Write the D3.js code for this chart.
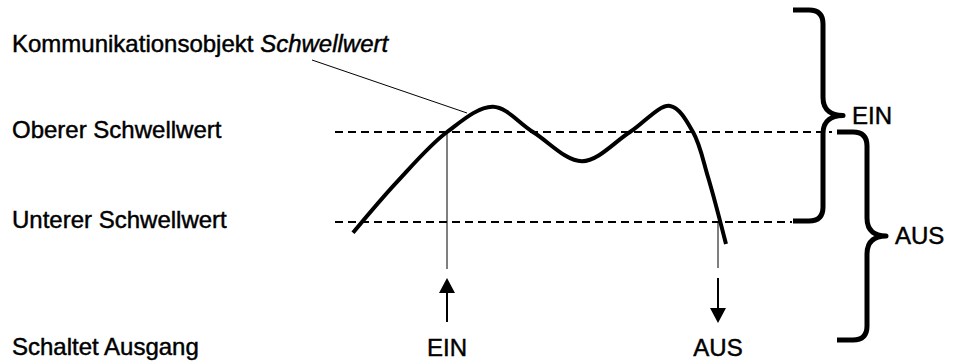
<!DOCTYPE html>
<html>
<head>
<meta charset="utf-8">
<script src="https://cdn.jsdelivr.net/npm/d3@7"></script>
<style>
  html, body { margin: 0; padding: 0; background: #fff; }
  svg { display: block; }
  text { font-family: "Liberation Sans", Arial, Helvetica, sans-serif; font-size: 24px; fill: #000; stroke: #000; stroke-width: 0.45px; }
</style>
</head>
<body>
<svg id="chart" width="957" height="363"></svg>
<script>
// ---- data ----
const curveX = [3.6, 12.4, 22.4, 31.6, 39.6, 49.4, 59, 67, 71.6, 74.6, 78.2];
const curveY = [17.6, 28.9, 40, 45.6, 40, 33.5, 40, 45.8, 40, 30, 15.1];
const thresholdLabels = ["Oberer Schwellwert", "Unterer Schwellwert"];
const thresholdValues = [40, 20];
const switchLabels = ["EIN", "AUS"];
const switchX = [22.4, 76.6];
const switchDir = ["up", "down"];
const braceLabels = ["EIN", "AUS"];
const titleLabel = "Kommunikationsobjekt ";
const titleItalic = "Schwellwert";
const rowLabel = "Schaltet Ausgang";

// ---- scales ----
const x = d3.scaleLinear().domain([0, 100]).range([335, 835]);
const y = d3.scaleLinear().domain([20, 40]).range([222, 132]);

const svg = d3.select("#chart");

// left labels
const title = svg.append("text").attr("x", 12).attr("y", 52);
title.append("tspan").text(titleLabel);
title.append("tspan").attr("font-style", "italic").text(titleItalic);

svg.selectAll("text.thr").data(thresholdLabels).enter().append("text")
  .attr("class", "thr").attr("x", 12)
  .attr("y", (d, i) => y(thresholdValues[i]) + 6)
  .text(d => d);

svg.append("text").attr("x", 12).attr("y", 355).text(rowLabel);

// threshold dashed lines (ending at the braces)
const lineEnds = [832, 792];
svg.selectAll("line.thr").data(thresholdValues).enter().append("line")
  .attr("x1", x(0)).attr("x2", (d, i) => lineEnds[i])
  .attr("y1", d => y(d)).attr("y2", d => y(d))
  .attr("stroke", "#000").attr("stroke-width", 2)
  .attr("stroke-dasharray", "8,5");

// leader line from title to curve
svg.append("line")
  .attr("x1", 312).attr("y1", 60)
  .attr("x2", 467).attr("y2", 113)
  .attr("stroke", "#000").attr("stroke-width", 1);

// vertical switch lines
const vEnd = [269, 268];
svg.selectAll("line.sw").data(switchX).enter().append("line")
  .attr("x1", d => x(d)).attr("x2", d => x(d))
  .attr("y1", (d, i) => y(switchDir[i] === "up" ? thresholdValues[0] : thresholdValues[1]))
  .attr("y2", (d, i) => vEnd[i])
  .attr("stroke", "#000").attr("stroke-width", 1);

// curve
const pts = curveX.map((v, i) => [v, curveY[i]]);
const line = d3.line().x(d => x(d[0])).y(d => y(d[1])).curve(d3.curveCatmullRom.alpha(0.5));
svg.append("path").attr("d", line(pts))
  .attr("fill", "none").attr("stroke", "#000").attr("stroke-width", 4)
  .attr("stroke-linejoin", "round");

// arrows
switchX.forEach((v, i) => {
  const cx = x(v);
  if (switchDir[i] === "up") {
    svg.append("line").attr("x1", cx).attr("x2", cx).attr("y1", 322).attr("y2", 291)
      .attr("stroke", "#000").attr("stroke-width", 2);
    svg.append("path").attr("d", `M${cx},278 L${cx - 8},293 L${cx + 8},293 Z`).attr("fill", "#000");
  } else {
    svg.append("line").attr("x1", cx).attr("x2", cx).attr("y1", 278).attr("y2", 310)
      .attr("stroke", "#000").attr("stroke-width", 2);
    svg.append("path").attr("d", `M${cx},323 L${cx - 8},308 L${cx + 8},308 Z`).attr("fill", "#000");
  }
  svg.append("text").attr("x", cx).attr("y", 356).attr("text-anchor", "middle").text(switchLabels[i]);
});

// braces
function brace(xe, xs, xt, y0, y1) {
  const ym = (y0 + y1) / 2, r = 14, r2 = 18;
  return `M${xe},${y0} L${xs - r},${y0} Q${xs},${y0} ${xs},${y0 + r} ` +
    `L${xs},${ym - r2} C${xs},${ym - 4} ${xt - 10},${ym} ${xt},${ym} ` +
    `C${xt - 10},${ym} ${xs},${ym + 4} ${xs},${ym + r2} ` +
    `L${xs},${y1 - r} Q${xs},${y1} ${xs - r},${y1} L${xe},${y1}`;
}
const braces = [
  { xe: 793, xs: 823, xt: 843, y0: 10, y1: y(thresholdValues[1]) - 1 },
  { xe: 837, xs: 867, xt: 886, y0: y(thresholdValues[0]), y1: 340 }
];
braces.forEach((b, i) => {
  svg.append("path").attr("d", brace(b.xe, b.xs, b.xt, b.y0, b.y1))
    .attr("fill", "none").attr("stroke", "#000").attr("stroke-width", 5)
    .attr("stroke-linejoin", "round");
  svg.append("text").attr("x", b.xt + 9).attr("y", (b.y0 + b.y1) / 2 + 8).text(braceLabels[i]);
});
</script>
</body>
</html>
